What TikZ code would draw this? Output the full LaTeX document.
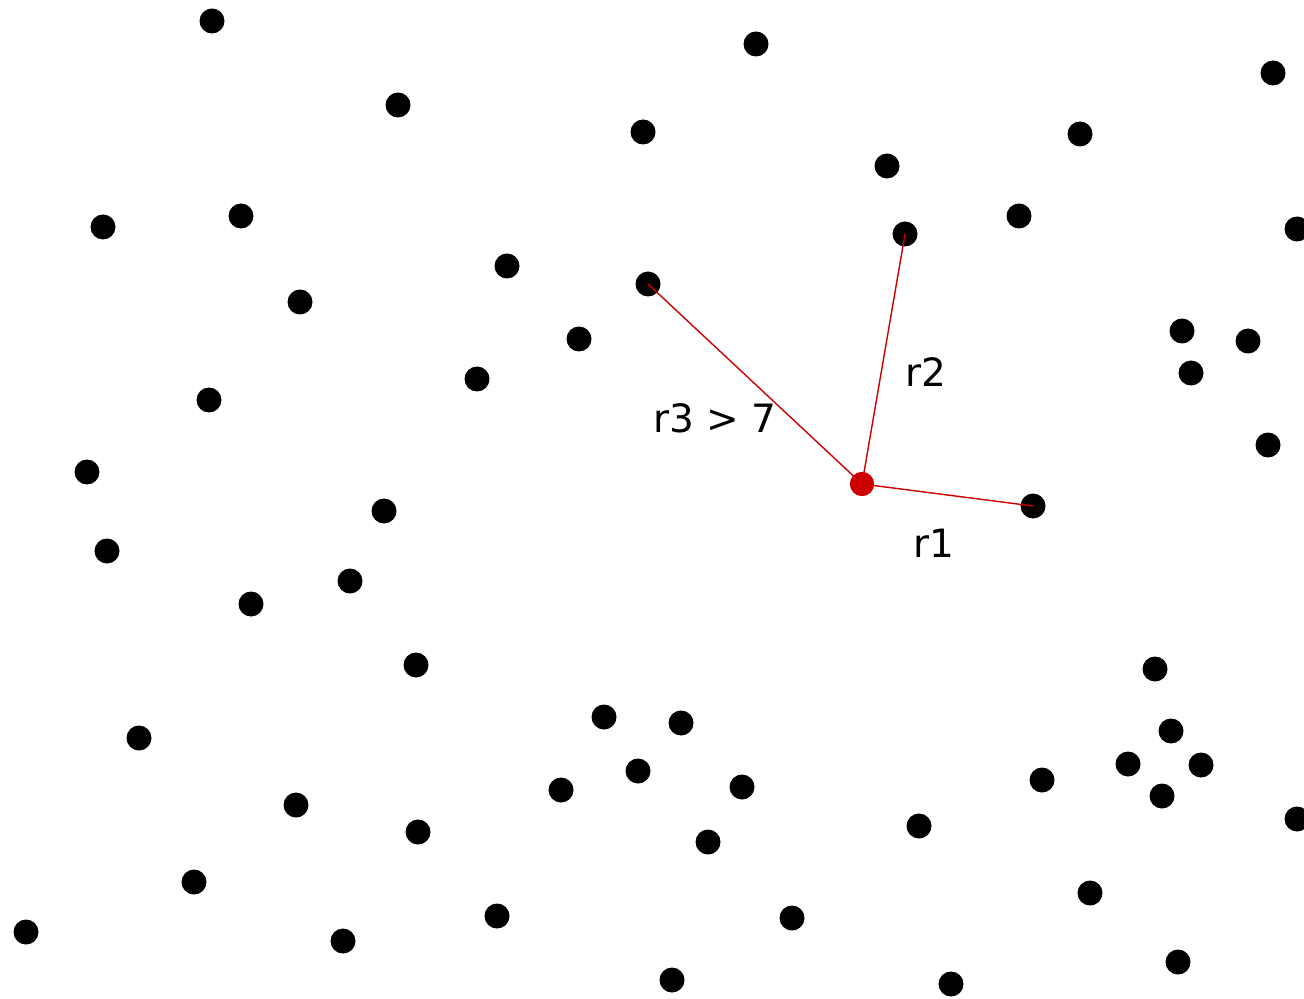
\documentclass[tikz,border=0pt]{standalone}
\usepackage{fontspec}
\setmainfont{DejaVu Sans}
\begin{document}
\begin{tikzpicture}[x=0.5pt,y=-0.5pt,
  dot/.style={circle,fill=black,inner sep=0pt,minimum size=12.5pt},
  reddot/.style={circle,fill=red!80!black,inner sep=0pt,minimum size=12pt},
  redline/.style={draw=red!80!black,line width=0.7pt},
  lbl/.style={font=\fontsize{19.5}{22}\selectfont,inner sep=0pt}]
\useasboundingbox (0,0) rectangle (1304,999);
\clip (0,0) rectangle (1304,999);
\fill[white] (0,0) rectangle (1304,999);
\foreach \n/\x/\y in {
 1/212/21, 2/756/44, 3/1273/73, 4/398/105, 5/643/132, 6/1080/134, 7/887/166,
 8/103/227, 9/241/216, 10/905/234, 11/1019/216, 12/1297/229, 13/507/266,
 14/648/284, 15/300/302, 16/579/339, 17/1182/331, 18/1248/341, 19/1191/373,
 20/477/379, 21/209/400, 22/1268/445, 23/87/472, 24/384/511, 25/1033/506,
 26/107/551, 27/350/581, 28/251/604, 29/416/665, 30/1155/669, 31/604/717,
 32/681/723, 33/1171/731, 34/139/738, 35/638/771, 36/1128/764, 37/1201/765,
 38/561/790, 39/742/787, 40/1042/780, 41/1162/796, 42/296/805, 43/418/832,
 44/919/826, 45/1297/819, 46/708/842, 47/194/882, 48/1090/893, 49/26/932,
 50/343/941, 51/497/916, 52/792/918, 53/1178/962, 54/672/980, 55/951/984}
 { \node[dot] (d\n) at (\x,\y) {}; }
\node[reddot] (c) at (862,484) {};
\draw[redline] (c.center) -- (d25.center);
\draw[redline] (c.center) -- (d10.center);
\draw[redline] (c.center) -- (d14.center);
\node[reddot] at (c.center) {};
\node[lbl] (l3) at (715,418) {r3 > 7};
\node[lbl] (l2) at (926,372) {r2};
\node[lbl] (l1) at (934,543) {r1};
\end{tikzpicture}
\end{document}
